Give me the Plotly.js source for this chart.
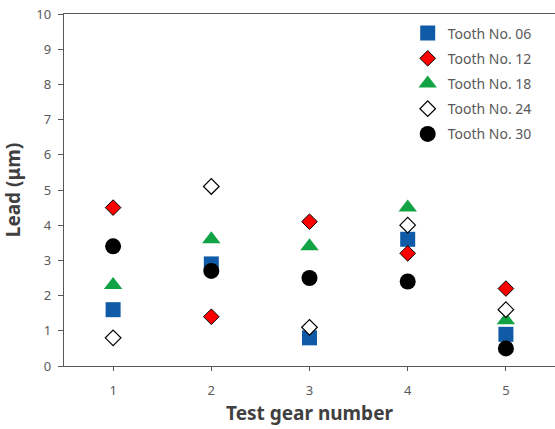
<!DOCTYPE html>
<html>
<head>
<meta charset="utf-8">
<script src="https://cdn.plot.ly/plotly-3.0.1.min.js"></script>
<style>html,body{margin:0;padding:0;background:#fff;}#chart{width:555px;height:429px;}</style>
</head>
<body>
<div id="chart"></div>
<script>
const gears = [1, 2, 3, 4, 5];
const seriesNames = ["Tooth No. 06", "Tooth No. 12", "Tooth No. 18", "Tooth No. 24", "Tooth No. 30"];
const tooth06 = [1.6, 2.9, 0.8, 3.6, 0.9];
const tooth12 = [4.5, 1.4, 4.1, 3.2, 2.2];
const tooth18 = [2.3, 3.6, 3.4, 4.5, 1.3];
const tooth24 = [0.8, 5.1, 1.1, 4.0, 1.6];
const tooth30 = [3.4, 2.7, 2.5, 2.4, 0.5];
const yTicks = [0, 1, 2, 3, 4, 5, 6, 7, 8, 9, 10];

const styles = [
  {symbol: "square", size: 15, color: "#0f5ba8", line: {width: 0}},
  {symbol: "diamond", size: 12, color: "#ff0000", line: {width: 1, color: "#000"}},
  {symbol: "triangle-up", size: 16, color: "#12a345", line: {width: 0}},
  {symbol: "diamond", size: 12, color: "#ffffff", line: {width: 1.2, color: "#000"}},
  {symbol: "circle", size: 16, color: "#000000", line: {width: 0}}
];
const values = [tooth06, tooth12, tooth18, tooth24, tooth30];
const traces = values.map((v, i) => ({
  type: "scatter", mode: "markers", x: gears, y: v, name: seriesNames[i],
  legendgroup: "g" + i, legendrank: i + 1,
  marker: styles[i]
}));

const font = {family: "Noto Sans, Open Sans, sans-serif", color: "#595959"};
const layout = {
  width: 555, height: 429,
  margin: {l: 64, r: 0, t: 14, b: 63},
  paper_bgcolor: "#fff", plot_bgcolor: "#fff",
  font: font,
  showlegend: true,
  legend: {x: 0.70, y: 0.99, xanchor: "left", yanchor: "top",
    font: {size: 14, color: "#595959", family: font.family},
    traceorder: "grouped", tracegroupgap: 4, bgcolor: "rgba(0,0,0,0)"},
  xaxis: {range: [0.5, 5.5], tickvals: gears, ticktext: gears.map(String),
    showgrid: false, zeroline: false, showline: true, mirror: true,
    linecolor: "#595959", linewidth: 1.3, ticks: "outside", ticklen: 4, tickcolor: "#595959",
    tickfont: {size: 13, color: "#595959"}, ticklabelstandoff: 8,
    title: {text: "Test gear number", font: {size: 19, color: "#404040", family: font.family, weight: "bold"}, standoff: 8}},
  yaxis: {range: [0, 10], tickvals: yTicks, ticktext: yTicks.map(String),
    showgrid: false, zeroline: false, showline: true,
    linecolor: "#595959", linewidth: 1.3, ticks: "outside", ticklen: 5, tickcolor: "#595959",
    tickfont: {size: 13, color: "#595959"}, ticklabelstandoff: 4,
    title: {text: "Lead (μm)", font: {size: 19, color: "#404040", family: font.family, weight: "bold"}, standoff: 11}}
};
Plotly.newPlot("chart", traces, layout, {displayModeBar: false, staticPlot: true});
</script>
</body>
</html>
